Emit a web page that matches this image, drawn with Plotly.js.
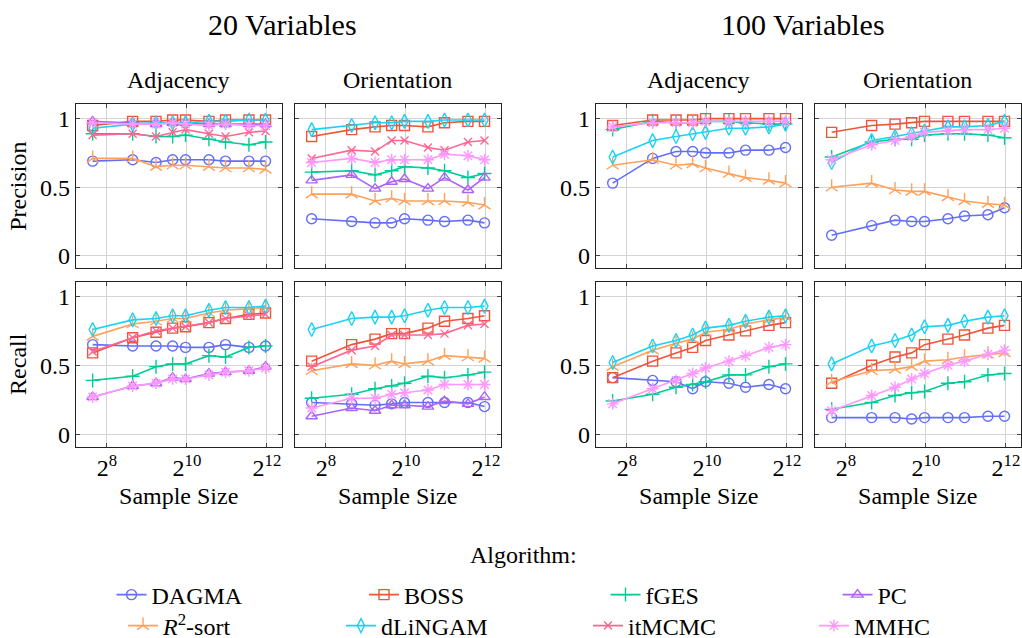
<!DOCTYPE html>
<html>
<head>
<meta charset="utf-8">
<script src="https://cdn.plot.ly/plotly-3.0.1.min.js"></script>
<style>
html,body{margin:0;padding:0;background:#fff;width:1022px;height:638px;overflow:hidden;font-family:"Liberation Serif",serif;}
#chart{width:1022px;height:660px;}
svg text{font-family:"Liberation Serif",serif !important;}
</style>
</head>
<body>
<div id="chart"></div>
<script>
// ---------------- data ----------------
const sampleSizes = [200, 400, 600, 800, 1000, 1500, 2000, 3000, 4000];
const algorithms = ['DAGMA', 'BOSS', 'fGES', 'PC', 'R2-sort', 'dLiNGAM', 'itMCMC', 'MMHC'];
const algorithmLabels = ['DAGMA', 'BOSS', 'fGES', 'PC', '<i>R</i><sup>2</sup>-sort', 'dLiNGAM', 'itMCMC', 'MMHC'];
const groupTitles = ['20 Variables', '100 Variables'];
const columnTitles = ['Adjacency', 'Orientation', 'Adjacency', 'Orientation'];
const rowTitles = ['Precision', 'Recall'];
const xTickVals = [256, 1024, 4096];
const xTickText = ['2<sup>8</sup>', '2<sup>10</sup>', '2<sup>12</sup>'];
const yTickVals = [0, 0.5, 1];
const yTickText = ['0', '0.5', '1'];

// 20 variables – adjacency precision
const prec20Adj = {
  'DAGMA':   [0.69, 0.70, 0.68, 0.70, 0.70, 0.70, 0.69, 0.69, 0.69],
  'BOSS':    [0.95, 0.98, 0.98, 0.99, 0.99, 0.98, 0.99, 0.99, 0.99],
  'fGES':    [0.89, 0.89, 0.87, 0.87, 0.88, 0.85, 0.83, 0.81, 0.83],
  'PC':      [0.98, 0.97, 0.96, 0.97, 0.97, 0.96, 0.96, 0.96, 0.96],
  'R2-sort': [0.71, 0.71, 0.65, 0.66, 0.66, 0.65, 0.64, 0.64, 0.63],
  'dLiNGAM': [0.93, 0.96, 0.97, 0.97, 0.97, 0.98, 0.98, 0.99, 0.99],
  'itMCMC':  [0.88, 0.89, 0.87, 0.90, 0.92, 0.89, 0.87, 0.90, 0.91],
  'MMHC':    [0.97, 0.96, 0.96, 0.97, 0.96, 0.95, 0.96, 0.95, 0.95]
};
// 20 variables – orientation precision
const prec20Ori = {
  'DAGMA':   [0.27, 0.25, 0.24, 0.24, 0.27, 0.26, 0.25, 0.26, 0.24],
  'BOSS':    [0.87, 0.92, 0.94, 0.95, 0.95, 0.94, 0.97, 0.98, 0.98],
  'fGES':    [0.61, 0.62, 0.59, 0.62, 0.65, 0.64, 0.62, 0.57, 0.60],
  'PC':      [0.55, 0.59, 0.49, 0.54, 0.56, 0.49, 0.57, 0.48, 0.57],
  'R2-sort': [0.45, 0.45, 0.40, 0.42, 0.40, 0.40, 0.40, 0.39, 0.37],
  'dLiNGAM': [0.92, 0.95, 0.97, 0.97, 0.98, 0.98, 0.99, 0.99, 0.99],
  'itMCMC':  [0.71, 0.77, 0.76, 0.84, 0.84, 0.79, 0.77, 0.83, 0.84],
  'MMHC':    [0.68, 0.71, 0.68, 0.70, 0.70, 0.70, 0.74, 0.73, 0.70]
};
// 100 variables – adjacency precision
const prec100Adj = {
  'DAGMA':   [0.53, 0.71, 0.76, 0.76, 0.75, 0.75, 0.77, 0.77, 0.79],
  'BOSS':    [0.95, 0.99, 0.99, 0.99, 1.00, 1.00, 1.00, 1.00, 1.00],
  'fGES':    [0.92, 0.98, 0.97, 0.97, 0.98, 0.98, 0.97, 0.96, 0.96],
  'R2-sort': [0.66, 0.70, 0.66, 0.67, 0.64, 0.60, 0.57, 0.55, 0.53],
  'dLiNGAM': [0.72, 0.84, 0.87, 0.89, 0.90, 0.93, 0.93, 0.94, 0.96],
  'MMHC':    [0.94, 0.97, 0.97, 0.97, 0.98, 0.98, 0.98, 0.98, 0.98]
};
// 100 variables – orientation precision
const prec100Ori = {
  'DAGMA':   [0.15, 0.22, 0.26, 0.25, 0.25, 0.27, 0.29, 0.30, 0.35],
  'BOSS':    [0.90, 0.95, 0.96, 0.97, 0.98, 0.98, 0.98, 0.98, 0.98],
  'fGES':    [0.72, 0.83, 0.85, 0.85, 0.88, 0.89, 0.89, 0.88, 0.86],
  'R2-sort': [0.50, 0.53, 0.48, 0.47, 0.47, 0.43, 0.40, 0.38, 0.37],
  'dLiNGAM': [0.68, 0.84, 0.87, 0.89, 0.91, 0.94, 0.94, 0.95, 0.98],
  'MMHC':    [0.70, 0.81, 0.84, 0.87, 0.90, 0.91, 0.92, 0.92, 0.93]
};
// 20 variables – adjacency recall
const rec20Adj = {
  'DAGMA':   [0.65, 0.64, 0.64, 0.64, 0.63, 0.63, 0.65, 0.63, 0.64],
  'BOSS':    [0.59, 0.70, 0.74, 0.77, 0.78, 0.81, 0.84, 0.87, 0.88],
  'fGES':    [0.39, 0.42, 0.49, 0.51, 0.51, 0.57, 0.56, 0.63, 0.64],
  'PC':      [0.27, 0.35, 0.37, 0.41, 0.40, 0.44, 0.45, 0.46, 0.49],
  'R2-sort': [0.71, 0.80, 0.82, 0.84, 0.84, 0.88, 0.90, 0.91, 0.92],
  'dLiNGAM': [0.76, 0.83, 0.84, 0.86, 0.86, 0.90, 0.92, 0.92, 0.93],
  'itMCMC':  [0.60, 0.70, 0.75, 0.77, 0.78, 0.81, 0.84, 0.86, 0.87],
  'MMHC':    [0.27, 0.35, 0.37, 0.40, 0.40, 0.43, 0.45, 0.46, 0.48]
};
// 20 variables – orientation recall
const rec20Ori = {
  'DAGMA':   [0.23, 0.22, 0.21, 0.22, 0.23, 0.23, 0.23, 0.23, 0.20],
  'BOSS':    [0.53, 0.65, 0.69, 0.73, 0.73, 0.77, 0.82, 0.84, 0.86],
  'fGES':    [0.26, 0.29, 0.33, 0.35, 0.37, 0.42, 0.41, 0.43, 0.45],
  'PC':      [0.13, 0.19, 0.17, 0.21, 0.21, 0.20, 0.24, 0.22, 0.27],
  'R2-sort': [0.46, 0.51, 0.50, 0.53, 0.51, 0.53, 0.57, 0.56, 0.55],
  'dLiNGAM': [0.76, 0.84, 0.85, 0.85, 0.86, 0.90, 0.92, 0.92, 0.93],
  'itMCMC':  [0.49, 0.61, 0.64, 0.72, 0.72, 0.72, 0.73, 0.79, 0.80],
  'MMHC':    [0.19, 0.26, 0.26, 0.29, 0.30, 0.32, 0.36, 0.36, 0.36]
};
// 100 variables – adjacency recall
const rec100Adj = {
  'DAGMA':   [0.41, 0.39, 0.38, 0.33, 0.38, 0.37, 0.34, 0.36, 0.33],
  'BOSS':    [0.41, 0.53, 0.59, 0.63, 0.68, 0.72, 0.75, 0.79, 0.81],
  'fGES':    [0.24, 0.29, 0.34, 0.36, 0.38, 0.43, 0.43, 0.49, 0.51],
  'R2-sort': [0.49, 0.61, 0.66, 0.69, 0.74, 0.76, 0.80, 0.83, 0.85],
  'dLiNGAM': [0.52, 0.64, 0.68, 0.72, 0.77, 0.79, 0.82, 0.85, 0.86],
  'MMHC':    [0.22, 0.33, 0.39, 0.44, 0.48, 0.53, 0.57, 0.63, 0.65]
};
// 100 variables – orientation recall
const rec100Ori = {
  'DAGMA':   [0.12, 0.12, 0.12, 0.11, 0.12, 0.12, 0.12, 0.13, 0.13],
  'BOSS':    [0.37, 0.50, 0.56, 0.59, 0.65, 0.69, 0.72, 0.77, 0.79],
  'fGES':    [0.18, 0.23, 0.28, 0.30, 0.31, 0.37, 0.38, 0.43, 0.44],
  'R2-sort': [0.38, 0.46, 0.47, 0.49, 0.53, 0.54, 0.56, 0.58, 0.59],
  'dLiNGAM': [0.51, 0.64, 0.68, 0.72, 0.78, 0.79, 0.82, 0.85, 0.86],
  'MMHC':    [0.17, 0.28, 0.34, 0.40, 0.44, 0.50, 0.53, 0.58, 0.61]
};

// ---------------- style ----------------
const colors = ['#636EFA', '#EF553B', '#00CC96', '#AB63FA', '#FFA15A', '#19D3F3', '#FF6692', '#FF97FF'];
const symbols = ['circle-open', 'square-open', 'cross-thin-open', 'triangle-up-open', 'y-up-open', 'diamond-tall-open', 'x-thin-open', 'asterisk-open'];
const markerSizes = [10, 10, 10, 10, 10, 10, 8, 10];

const FONT = 'Liberation Serif';
const FS = 24;
const W = 1022, HL = 660;
const panels = [[prec20Adj, prec20Ori, prec100Adj, prec100Ori], [rec20Adj, rec20Ori, rec100Adj, rec100Ori]];
const colPx = [[75.7, 281.7], [294.7, 500.7], [595.7, 801.7], [814.7, 1020.7]];
const rowPx = [[104.2, 268.2], [282, 446.5]];
const xRange = [7.22 * Math.log10(2), 12.37 * Math.log10(2)];
const yRange = [-0.09, 1.105];
const py = (p) => 1 - p / HL;

const traces = [];
const layout = {
  width: W, height: HL,
  margin: {l: 0, r: 0, t: 0, b: 0},
  paper_bgcolor: '#fff', plot_bgcolor: '#fff',
  font: {family: FONT, size: FS, color: '#000'},
  annotations: []
};

const shown = {};
for (let r = 0; r < 2; r++) {
  for (let c = 0; c < 4; c++) {
    const idx = r * 4 + c + 1;
    const xa = 'xaxis' + (idx === 1 ? '' : idx);
    const ya = 'yaxis' + (idx === 1 ? '' : idx);
    const xref = 'x' + (idx === 1 ? '' : idx);
    const yref = 'y' + (idx === 1 ? '' : idx);
    const xAxis = {
      type: 'log', range: xRange, domain: [colPx[c][0] / W, colPx[c][1] / W], anchor: yref,
      tickvals: xTickVals, ticktext: xTickText, showticklabels: r === 1,
      ticks: 'inside', ticklen: 4, tickcolor: '#444', tickwidth: 1,
      showline: true, linecolor: '#222', linewidth: 1, mirror: 'ticks',
      showgrid: true, gridcolor: '#d3d3d3', gridwidth: 1, zeroline: false,
      tickfont: {size: FS, family: FONT, color: '#000'}
    };
    if (r === 1) xAxis.title = {text: 'Sample Size', font: {size: FS, family: FONT, color: '#000'}, standoff: 6};
    layout[xa] = xAxis;
    const yAxis = {
      range: yRange, domain: [py(rowPx[r][1]), py(rowPx[r][0])], anchor: xref,
      tickvals: yTickVals, ticktext: yTickText, showticklabels: c === 0 || c === 2,
      ticks: 'inside', ticklen: 4, tickcolor: '#444', tickwidth: 1,
      showline: true, linecolor: '#222', linewidth: 1, mirror: 'ticks',
      showgrid: true, gridcolor: '#d3d3d3', gridwidth: 1, zeroline: false,
      tickfont: {size: FS, family: FONT, color: '#000'}
    };
    if (c === 0) yAxis.title = {text: rowTitles[r], font: {size: FS, family: FONT, color: '#000'}, standoff: 6};
    layout[ya] = yAxis;
    const data = panels[r][c];
    algorithms.forEach((alg, k) => {
      if (!data[alg]) return;
      const first = !shown[alg];
      shown[alg] = true;
      traces.push({
        type: 'scatter', mode: 'lines+markers',
        x: sampleSizes, y: data[alg],
        xaxis: xref, yaxis: yref,
        name: algorithmLabels[k], legendgroup: alg,
        legend: 'legend' + (k === 0 ? '' : (k + 1)),
        showlegend: first,
        line: {color: colors[k], width: 1.6},
        marker: {symbol: symbols[k], size: markerSizes[k], color: colors[k], line: {color: colors[k], width: 1.4}},
        cliponaxis: false
      });
    });
  }
}

// titles
const groupCenters = [282, 803];
groupTitles.forEach((t, i) => layout.annotations.push({
  text: t, xref: 'paper', yref: 'paper', x: groupCenters[i] / W, y: py(24),
  xanchor: 'center', yanchor: 'middle', showarrow: false, font: {size: 30, family: FONT, color: '#000'}
}));
columnTitles.forEach((t, i) => layout.annotations.push({
  text: t, xref: 'paper', yref: 'paper', x: (colPx[i][0] + colPx[i][1]) / 2 / W, y: py(80),
  xanchor: 'center', yanchor: 'middle', showarrow: false, font: {size: FS, family: FONT, color: '#000'}
}));
layout.annotations.push({
  text: 'Algorithm:', xref: 'paper', yref: 'paper', x: 523 / W, y: py(555),
  xanchor: 'center', yanchor: 'middle', showarrow: false, font: {size: FS, family: FONT, color: '#000'}
});

// legends: one per entry, laid out as a 4x2 grid
const legCols = [180, 417, 655, 875];
const legRows = [595, 626];
algorithms.forEach((alg, k) => {
  const key = 'legend' + (k === 0 ? '' : (k + 1));
  layout[key] = {
    x: legCols[k % 4] / W, y: py(legRows[Math.floor(k / 4)]),
    xanchor: 'center', yanchor: 'middle', orientation: 'h',
    bgcolor: 'rgba(0,0,0,0)', borderwidth: 0,
    font: {size: FS, family: FONT, color: '#000'}
  };
});

function draw() {
  return Plotly.newPlot('chart', traces, layout, {displayModeBar: false}).then(gd => {
    gd.querySelectorAll('text').forEach(t => t.setAttribute('font-family', FONT));
  });
}
if (document.fonts && document.fonts.load) {
  document.fonts.load('24px "Liberation Serif"').then(draw, draw);
} else {
  draw();
}
</script>
</body>
</html>
